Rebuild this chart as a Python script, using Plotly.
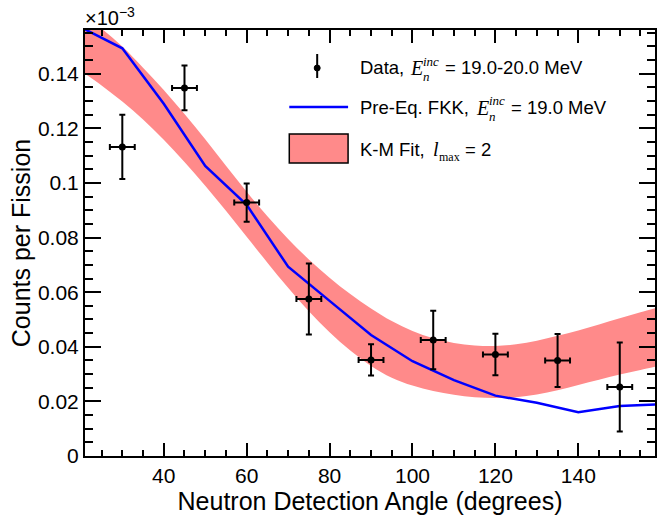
import plotly.graph_objects as go

# ---- data (counts per fission, in units of 1e-3) ----
data_angle = [30, 45, 60, 75, 90, 105, 120, 135, 150]
data_counts = [0.1132, 0.1348, 0.0928, 0.0575, 0.0352, 0.0425, 0.0372, 0.0350, 0.0253]
data_err = [0.0118, 0.0082, 0.0070, 0.0130, 0.0057, 0.0107, 0.0076, 0.0097, 0.0163]
data_angle_err = [3, 3, 3, 3, 3, 3, 3, 3, 3]

fkk_angle = [20, 30, 40, 50, 60, 70, 80, 90, 100, 110, 120, 130, 140, 150, 160]
fkk_counts = [0.1570, 0.1493, 0.1290, 0.1062, 0.0920, 0.0693, 0.0568, 0.0443,
              0.0347, 0.0278, 0.0221, 0.0195, 0.0160, 0.0183, 0.0190]

km_angle = [20, 25, 30, 35, 40, 45, 50, 55, 60, 65, 70, 75, 80, 85, 90, 95,
            100, 105, 110, 115, 120, 125, 130, 135, 140, 145, 150, 155, 160]
km_upper = [0.1622, 0.1565, 0.1500, 0.1422, 0.1340, 0.1252, 0.1160, 0.1063,
            0.0968, 0.0878, 0.0795, 0.0720, 0.0653, 0.0593, 0.0540, 0.0494,
            0.0458, 0.0431, 0.0414, 0.0405, 0.0403, 0.0409, 0.0422, 0.0440,
            0.0460, 0.0482, 0.0504, 0.0526, 0.0547]
km_lower = [0.1410, 0.1357, 0.1298, 0.1232, 0.1158, 0.1077, 0.0990, 0.0898,
            0.0803, 0.0708, 0.0616, 0.0530, 0.0453, 0.0386, 0.0330, 0.0287,
            0.0258, 0.0238, 0.0224, 0.0215, 0.0212, 0.0215, 0.0225, 0.0241,
            0.0260, 0.0279, 0.0298, 0.0315, 0.0332]

x_range = [21, 158.5]
y_range = [0, 0.156]
x_ticks = [40, 60, 80, 100, 120, 140]
y_ticks = [0, 0.02, 0.04, 0.06, 0.08, 0.1, 0.12, 0.14]
y_tick_text = ["0", "0.02", "0.04", "0.06", "0.08", "0.1", "0.12", "0.14"]

BAND = "#ff8a8a"
LINE = "#0000ff"
SANS = "Liberation Sans, Arial, Helvetica, sans-serif"
SERIF = "Liberation Serif, Times New Roman, serif"

W, H = 658, 515
FL, FR, FT, FB = 85, 657, 30, 456  # frame edges in pixels


def px(x):
    return (x - FL) / (FR - FL)


def py(y):
    return (FB - y) / (FB - FT)


fig = go.Figure()

# K-M fit band
fig.add_trace(go.Scatter(x=km_angle, y=km_upper, mode="lines",
                         line=dict(width=0, color=BAND, shape="spline"),
                         hoverinfo="skip", showlegend=False))
fig.add_trace(go.Scatter(x=km_angle, y=km_lower, mode="lines",
                         line=dict(width=0, color=BAND, shape="spline"),
                         fill="tonexty", fillcolor=BAND,
                         hoverinfo="skip", showlegend=False))

# Pre-equilibrium FKK calculation
fig.add_trace(go.Scatter(x=fkk_angle, y=fkk_counts, mode="lines",
                         line=dict(width=2.5, color=LINE), showlegend=False))

# Measured data
fig.add_trace(go.Scatter(
    x=data_angle, y=data_counts, mode="markers",
    marker=dict(color="black", size=7),
    error_y=dict(type="data", array=data_err, color="black", thickness=2, width=3),
    error_x=dict(type="data", array=data_angle_err, color="black", thickness=2, width=3),
    showlegend=False))

axis_common = dict(showline=True, linecolor="black", linewidth=2,
                   mirror="allticks", ticks="inside", tickcolor="black",
                   tickwidth=2, showgrid=False, zeroline=False,
                   tickfont=dict(family=SANS, size=21, color="black"))

fig.update_xaxes(range=x_range, tickvals=x_ticks, ticklen=13,
                 minor=dict(ticks="inside", dtick=5, tick0=0, ticklen=6,
                            tickwidth=2, tickcolor="black"),
                 title=dict(text="Neutron Detection Angle (degrees)",
                            font=dict(family=SANS, size=25, color="black"),
                            standoff=3),
                 **axis_common)
fig.update_yaxes(range=y_range, tickvals=y_ticks, ticktext=y_tick_text, ticklen=16,
                 minor=dict(ticks="inside", dtick=0.005, tick0=0, ticklen=8,
                            tickwidth=2, tickcolor="black"),
                 title=dict(text="Counts per Fission",
                            font=dict(family=SANS, size=25, color="black"),
                            standoff=0),
                 **axis_common)

shapes = []
annotations = []

# legend: data symbol
shapes.append(dict(type="line", xref="paper", yref="paper",
                   x0=px(318), x1=px(318), y0=py(54), y1=py(78),
                   line=dict(color="black", width=2)))
shapes.append(dict(type="circle", xref="paper", yref="paper",
                   x0=px(315), x1=px(321), y0=py(65), y1=py(71),
                   fillcolor="black", line=dict(color="black", width=1)))
# legend: FKK line
shapes.append(dict(type="line", xref="paper", yref="paper",
                   x0=px(290), x1=px(349), y0=py(107), y1=py(107),
                   line=dict(color=LINE, width=2.5)))
# legend: band box
shapes.append(dict(type="rect", xref="paper", yref="paper",
                   x0=px(290), x1=px(349), y0=py(134), y1=py(163),
                   fillcolor=BAND, line=dict(color="black", width=1.5)))


def label(text, x, y, size=18.5, family=SANS):
    annotations.append(dict(text=text, x=px(x), y=py(y), xref="paper", yref="paper",
                            xanchor="left", yanchor="middle", showarrow=False,
                            borderpad=0,
                            font=dict(family=family, size=size, color="black")))


# row 1
label("Data,", 360, 68)
label("<i>E</i>", 410, 68, size=20, family=SERIF)
label("<i>inc</i>", 423, 61, size=13, family=SERIF)
label("<i>n</i>", 423, 76, size=13, family=SERIF)
label("= 19.0-20.0 MeV", 445, 68)
# row 2
label("Pre-Eq. FKK,", 360, 108)
label("<i>E</i>", 476, 108, size=20, family=SERIF)
label("<i>inc</i>", 489, 101, size=13, family=SERIF)
label("<i>n</i>", 489, 116, size=13, family=SERIF)
label("= 19.0 MeV", 511, 108)
# row 3
label("K-M Fit,", 360, 149)
label("<i>l</i>", 433, 149, size=20, family=SERIF)
label("max", 439, 157, size=12, family=SERIF)
label("= 2", 465, 149)

# exponent of the y scale
annotations.append(dict(text="×10<sup>−3</sup>", x=px(84), y=py(17), xref="paper",
                        yref="paper", xanchor="left", yanchor="middle",
                        showarrow=False, borderpad=0,
                        font=dict(family=SANS, size=20, color="black")))

fig.update_layout(width=W, height=H,
                  margin=dict(l=FL, r=W - FR, t=FT, b=H - FB),
                  paper_bgcolor="white", plot_bgcolor="white",
                  shapes=shapes, annotations=annotations,
                  showlegend=False)

fig.write_html("out.html")
